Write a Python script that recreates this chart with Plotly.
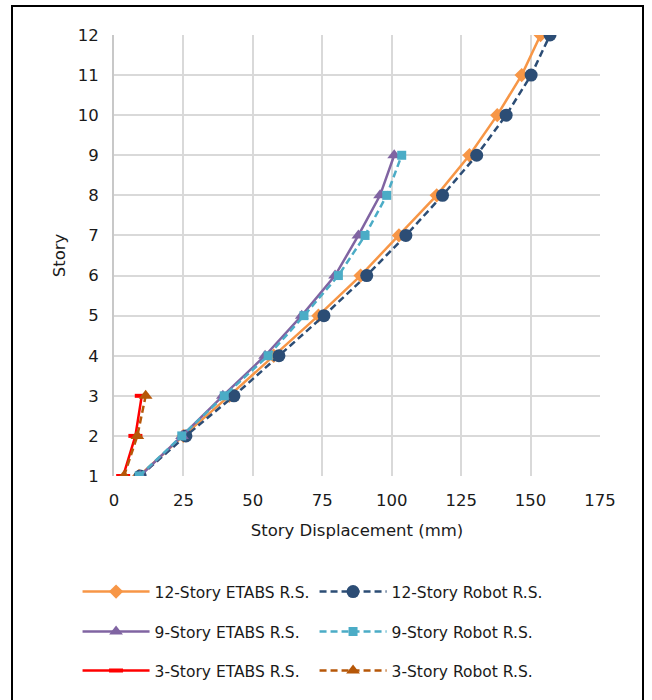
import plotly.graph_objects as go

stories_12 = list(range(1, 13))
stories_9 = list(range(1, 10))
stories_3 = [1, 2, 3]

etabs_12 = [9.0, 25.0, 41.5, 57.5, 73.6, 88.8, 102.6, 116.2, 128.0, 138.0, 146.8, 153.6]
robot_12 = [9.4, 25.9, 43.2, 59.4, 75.6, 91.0, 105.1, 118.3, 130.6, 141.2, 150.2, 157.0]
etabs_9 = [9.4, 24.5, 39.2, 54.4, 67.6, 79.6, 88.0, 95.8, 100.9]
robot_9 = [9.1, 24.4, 39.7, 55.5, 68.4, 80.8, 90.4, 98.2, 103.6]
etabs_3 = [3.3, 7.7, 10.0]
robot_3 = [3.6, 8.4, 11.4]

x_ticks = [0, 25, 50, 75, 100, 125, 150, 175]
y_ticks = list(range(1, 13))

FONT = "DejaVu Sans"
TXT = "#1A1A1A"

fig = go.Figure()

def add(x, y, name, color, symbol, size, dash, legend, mline=None):
    marker = dict(color=color, symbol=symbol, size=size)
    if mline:
        marker["line"] = mline
    fig.add_trace(go.Scatter(
        x=x, y=y, name=name, mode="lines+markers",
        line=dict(color=color, width=2.5, dash=dash),
        marker=marker, legend=legend))

add(etabs_12, stories_12, "12-Story ETABS R.S.", "#F79646", "diamond", 11, "solid", "legend")
add(robot_12, stories_12, "12-Story Robot R.S.", "#2C4D75", "circle", 13, "7px,4px", "legend")
add(etabs_9, stories_9, "9-Story ETABS R.S.", "#8064A2", "triangle-up", 12, "solid", "legend2")
add(robot_9, stories_9, "9-Story Robot R.S.", "#4BACC6", "square", 9, "7px,4px", "legend2")
add(etabs_3, stories_3, "3-Story ETABS R.S.", "#FF0000", "line-ew", 10, "solid", "legend3",
    mline=dict(color="#FF0000", width=4))
add(robot_3, stories_3, "3-Story Robot R.S.", "#B65708", "triangle-up", 12, "7px,4px", "legend3")

leg_common = dict(orientation="h", xanchor="left", yanchor="middle", x=-0.075,
                  font=dict(family=FONT, size=15.5, color=TXT),
                  itemwidth=67, entrywidth=155, bgcolor="rgba(0,0,0,0)")
rows_px = [592, 632, 671]
def py(p):
    return (476 - p) / 441

fig.update_layout(
    width=652, height=700,
    margin=dict(l=114, r=52, t=35, b=224),
    paper_bgcolor="white", plot_bgcolor="white",
    font=dict(family=FONT, size=16.5, color=TXT),
    legend=dict(**leg_common, y=py(rows_px[0])),
    legend2=dict(**leg_common, y=py(rows_px[1])),
    legend3=dict(**leg_common, y=py(rows_px[2])),
    xaxis=dict(range=[0, 175], tickvals=x_ticks, showgrid=True, gridcolor="#D9D9D9",
               gridwidth=1.5, zeroline=False, showline=False,
               ticks="outside", ticklen=9, tickcolor="rgba(0,0,0,0)",
               tickfont=dict(family=FONT, size=16.5, color=TXT),
               title=dict(text="Story Displacement (mm)", font=dict(family=FONT, size=16.5, color=TXT),
                          standoff=15)),
    yaxis=dict(range=[1, 12], tickvals=y_ticks, showgrid=True, gridcolor="#D9D9D9",
               gridwidth=1.5, zeroline=False, showline=True, linecolor="#C8C8C8", linewidth=2,
               ticks="outside", ticklen=10, tickcolor="rgba(0,0,0,0)",
               tickfont=dict(family=FONT, size=16.5, color=TXT),
               title=dict(text="Story", font=dict(family=FONT, size=16.5, color=TXT), standoff=8)),
    shapes=[dict(type="rect", xref="paper", yref="paper",
                 x0=(12 - 114) / 486, x1=(643 - 114) / 486,
                 y0=(476 - 712) / 441, y1=(476 - 6) / 441,
                 line=dict(color="black", width=2), fillcolor="rgba(0,0,0,0)", layer="below")],
)

fig.write_html("out.html")
